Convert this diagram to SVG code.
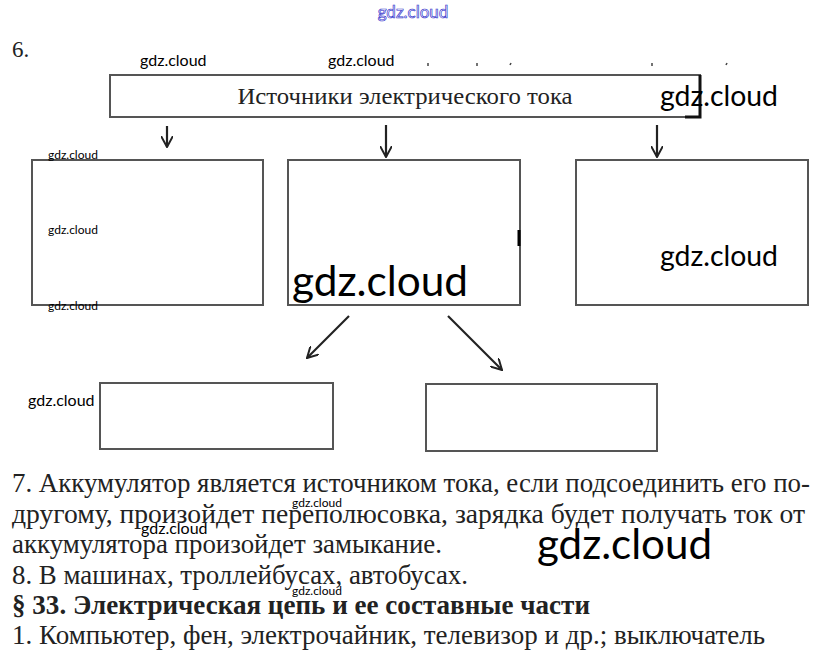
<svg xmlns="http://www.w3.org/2000/svg" width="827" height="654" viewBox="0 0 827 654">
<style>
.box{fill:#fff;stroke:#555;stroke-width:2}
.arr{fill:none;stroke:#222;stroke-width:2.2}
.wm{font-family:Lato,"Open Sans",sans-serif;fill:#000}
.ser{font-family:"Liberation Serif",serif;fill:#222}
</style>
<defs>
<marker id="ah" viewBox="0 0 12 12" refX="11" refY="6" markerWidth="12" markerHeight="12" orient="auto" markerUnits="userSpaceOnUse">
<path d="M0,0 L11,6 L0,12" fill="none" stroke="#222" stroke-width="2"/>
</marker>
</defs>
<rect width="827" height="654" fill="#fff"/>
<text x="413" y="18" text-anchor="middle" font-family="Lato,sans-serif" font-size="17" fill="none" stroke="#3333cc" stroke-width="0.7">gdz.cloud</text>
<text class="ser" x="12" y="57" font-size="23">6.</text>
<text class="wm" x="140" y="66" font-size="16">gdz.cloud</text>
<text class="wm" x="328" y="66" font-size="16">gdz.cloud</text>
<g stroke="#444" stroke-width="1.5">
<line x1="428" y1="63" x2="428" y2="66"/><line x1="477" y1="63" x2="477" y2="66"/><line x1="511" y1="63" x2="510" y2="65"/><line x1="652" y1="63" x2="652" y2="66"/><line x1="727" y1="63" x2="726" y2="65"/>
</g>
<g id="node-top">
<rect class="box" x="110" y="75" width="590" height="42"/>
<text class="ser" x="405" y="104" font-size="23" text-anchor="middle" fill="#333" textLength="335" lengthAdjust="spacingAndGlyphs">Источники электрического тока</text>
<path d="M700,75 V117 H685" fill="none" stroke="#111" stroke-width="3"/>
</g>
<g id="node-b1"><rect class="box" x="32" y="160" width="231" height="145"/></g>
<g id="node-b2"><rect class="box" x="288" y="160" width="232" height="145"/>
<line x1="519" y1="230" x2="519" y2="246" stroke="#000" stroke-width="3"/></g>
<g id="node-b3"><rect class="box" x="576" y="160" width="232" height="145"/></g>
<g id="node-b4"><rect class="box" x="100" y="383" width="233" height="66"/></g>
<g id="node-b5"><rect class="box" x="426" y="384" width="231" height="67"/></g>
<g id="connectors">
<line class="arr" x1="167" y1="126" x2="167" y2="147" marker-end="url(#ah)"/>
<line class="arr" x1="386" y1="125" x2="386" y2="157" marker-end="url(#ah)"/>
<line class="arr" x1="657" y1="125" x2="657" y2="157" marker-end="url(#ah)"/>
<line class="arr" x1="349" y1="316" x2="307" y2="358" marker-end="url(#ah)"/>
<line class="arr" x1="448" y1="316" x2="502" y2="370" marker-end="url(#ah)"/>
</g>
<text class="wm" x="660" y="106" font-size="28" textLength="118" lengthAdjust="spacingAndGlyphs">gdz.cloud</text>
<text class="wm" x="48" y="159" font-size="12">gdz.cloud</text>
<text class="wm" x="48" y="234" font-size="12">gdz.cloud</text>
<text class="wm" x="48" y="310" font-size="12">gdz.cloud</text>
<text class="wm" x="292" y="296" font-size="42" textLength="176" lengthAdjust="spacingAndGlyphs">gdz.cloud</text>
<text class="wm" x="660" y="266" font-size="28" textLength="118" lengthAdjust="spacingAndGlyphs">gdz.cloud</text>
<text class="wm" x="28" y="406" font-size="16">gdz.cloud</text>
<g class="ser" font-size="28">
<text x="12" y="492" textLength="798" lengthAdjust="spacingAndGlyphs">7. Аккумулятор является источником тока, если подсоединить его по-</text>
<text x="12" y="523" textLength="793" lengthAdjust="spacingAndGlyphs">другому, произойдет переполюсовка, зарядка будет получать ток от</text>
<text x="12" y="553" textLength="430" lengthAdjust="spacingAndGlyphs">аккумулятора произойдет замыкание.</text>
<text x="12" y="584" textLength="456" lengthAdjust="spacingAndGlyphs">8. В машинах, троллейбусах, автобусах.</text>
<text x="12" y="614" font-weight="bold" textLength="578" lengthAdjust="spacingAndGlyphs">§ 33.  Электрическая цепь и ее составные части</text>
<text x="12" y="644" textLength="753" lengthAdjust="spacingAndGlyphs">1. Компьютер, фен, электрочайник, телевизор и др.; выключатель</text>
</g>
<text class="wm" x="292" y="507" font-size="12">gdz.cloud</text>
<text class="wm" x="141" y="534" font-size="16">gdz.cloud</text>
<text class="wm" x="292" y="595" font-size="12">gdz.cloud</text>
<text class="wm" x="537" y="559" font-size="42" textLength="175" lengthAdjust="spacingAndGlyphs">gdz.cloud</text>
</svg>
